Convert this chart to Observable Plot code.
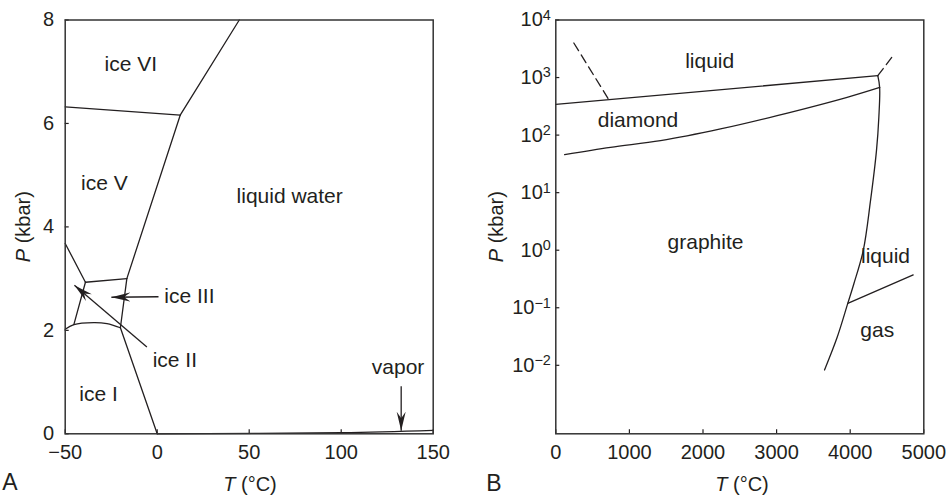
<!DOCTYPE html>
<html><head><meta charset="utf-8">
<script src="https://cdn.jsdelivr.net/npm/d3@7"></script>
<script src="https://cdn.jsdelivr.net/npm/@observablehq/plot@0.6"></script>
<style>
body{margin:0;background:#fff;}
#wrap{position:relative;width:948px;height:498px;}
#wrap svg{position:absolute;top:0;}
</style></head><body><div id="wrap"></div>
<script>
// ---------- Panel A : water ----------
const tempTicksA = [-50, 0, 50, 100, 150];
const presTicksA = [0, 2, 4, 6, 8];
const iceI_liquid   = [[-20, 2.05], [0, 0]];
const liquid_vapor  = [[0, 0], [100, 0.02], [150, 0.065]];
const iceIII_liquid = [[-20, 2.05], [-16.5, 3.0]];
const iceV_liquid   = [[-16.5, 3.0], [12.5, 6.16]];
const iceVI_liquid  = [[12.5, 6.16], [44.6, 8]];
const iceV_iceVI    = [[-50, 6.32], [12.5, 6.16]];
const iceIII_iceV   = [[-39, 2.93], [-16.5, 3.0]];
const iceII_iceV    = [[-50, 3.68], [-39, 2.93]];
const iceII_iceIII  = [[-39, 2.93], [-45.3, 2.11]];
const iceI_iceII    = [[-50, 2.02], [-45.3, 2.11], [-34.5, 2.15], [-27.3, 2.13], [-20, 2.05]];
const labelsA = ["ice VI", "ice V", "liquid water", "ice III", "ice II", "ice I", "vapor"];
const labelTA = [-14.3, -28.7, 72, 17.5, 9.6, -31.9, 130.9];
const labelPA = [7.14, 4.85, 4.59, 2.66, 1.42, 0.77, 1.29];
const arrowT1A = [0.7, -5.6, 132.6];
const arrowP1A = [2.65, 1.68, 0.92];
const arrowT2A = [-24.9, -45, 132.6];
const arrowP2A = [2.64, 2.87, 0.06];

// ---------- Panel B : carbon ----------
const tempTicksB = [0, 1000, 2000, 3000, 4000, 5000];
const presTicksB = [1e-2, 1e-1, 1, 10, 100, 1000, 10000];
const meltLine        = [[0, 342], [4375, 1076]];
const dashedLeft      = [[245, 3980], [720, 413]];
const dashedRight     = [[4375, 1076], [4592, 2495]];
const diamond_graphite = [[120, 45.7], [743, 61.2], [1423, 80], [2238, 128], [3007, 218], [3958, 454], [4402, 675]];
const graphite_fluid  = [[4375, 1076], [4400, 675], [4389, 203], [4357, 53.7], [4276, 7.26], [4177, 0.984], [4049, 0.259], [3967, 0.119], [3823, 0.0307], [3651, 0.0083]];
const liquid_gas      = [[3967, 0.119], [4856, 0.372]];
const labelsB = ["liquid", "diamond", "graphite", "liquid", "gas"];
const labelTB = [2091, 1117, 2034, 4480, 4367];
const labelPB = [1910, 178, 1.37, 0.78, 0.040];

const INK = "#231f20";
const FONT = "'Liberation Sans', Arial, Helvetica, sans-serif";

function rows(list, dashed) {
  const out = [];
  list.forEach((pts, i) => pts.forEach(([T, P]) => out.push({T, P, id: i, dashed})));
  return out;
}
const linesA = rows([iceI_liquid, liquid_vapor, iceIII_liquid, iceV_liquid, iceVI_liquid, iceV_iceVI, iceIII_iceV, iceII_iceV, iceII_iceIII, iceI_iceII]);
const solidB = rows([meltLine, diamond_graphite, graphite_fluid, liquid_gas]);
const dashB = rows([dashedLeft, dashedRight]);
const labA = labelsA.map((t, i) => ({t, T: labelTA[i], P: labelPA[i]}));
const labB = labelsB.map((t, i) => ({t, T: labelTB[i], P: labelPB[i]}));
const arrA = arrowT1A.map((_, i) => ({T1: arrowT1A[i], P1: arrowP1A[i], T2: arrowT2A[i], P2: arrowP2A[i]}));

const W = 474, H = 498, MT = 19.5, MB = 64.7;
const innerH = H - MT - MB;
const plain = d => d < 0 ? "\u2212" + (-d) : String(d);

const plotA = Plot.plot({
  width: W, height: H,
  marginLeft: 64.7, marginRight: 41.3, marginTop: MT, marginBottom: MB,
  style: {fontFamily: FONT, fontSize: "20px", color: INK, background: "white"},
  x: {domain: [-50, 150], label: null},
  y: {domain: [0, 8], label: null},
  marks: [
    Plot.axisX(tempTicksA, {tickSize: 0, tickPadding: 11, label: null, tickFormat: plain}),
    Plot.axisY(presTicksA, {tickSize: 0, tickPadding: 11, label: null, tickFormat: plain}),
    Plot.tickX(tempTicksA, {x: d => d, insetTop: innerH - 4, stroke: INK, strokeWidth: 1.2}),
    Plot.tickY(presTicksA, {y: d => d, insetRight: (W - 64.7 - 41.3) - 4, stroke: INK, strokeWidth: 1.2}),
    Plot.line(linesA, {x: "T", y: "P", z: "id", curve: "catmull-rom", stroke: INK, strokeWidth: 1.3}),
    Plot.link(arrA, {x1: "T1", y1: "P1", x2: "T2", y2: "P2", stroke: INK, strokeWidth: 1.3, markerEnd: "arrow"}),
    Plot.text(labA, {x: "T", y: "P", text: "t", fill: INK, fontSize: 21}),
    Plot.frame({stroke: "#333", strokeWidth: 1.5})
  ]
});

const plotB = Plot.plot({
  width: W, height: H,
  marginLeft: 81.3, marginRight: 24.7, marginTop: MT, marginBottom: MB,
  style: {fontFamily: FONT, fontSize: "20px", color: INK, background: "white"},
  x: {domain: [0, 5000], label: null},
  y: {type: "log", domain: [10 ** -3.19, 1e4], label: null},
  marks: [
    Plot.axisX(tempTicksB, {tickSize: 0, tickPadding: 11, label: null, tickFormat: plain}),
    Plot.axisY(presTicksB, {tickSize: 0, tickPadding: 5, label: null,
      tickFormat: d => { const e = Math.round(Math.log10(d)); return e < 0 ? "\u2212" + (-e) : String(e); }}),
    Plot.tickX(tempTicksB, {x: d => d, insetTop: innerH - 4, stroke: INK, strokeWidth: 1.2}),
    Plot.tickY(presTicksB, {y: d => d, insetRight: (W - 81.3 - 24.7) - 4, stroke: INK, strokeWidth: 1.2}),
    Plot.line(solidB, {x: "T", y: "P", z: "id", curve: "catmull-rom", stroke: INK, strokeWidth: 1.3}),
    Plot.line(dashB, {x: "T", y: "P", z: "id", stroke: INK, strokeWidth: 1.3, strokeDasharray: "9,5"}),
    Plot.text(labB, {x: "T", y: "P", text: "t", fill: INK, fontSize: 21}),
    Plot.frame({stroke: "#333", strokeWidth: 1.5})
  ]
});

// superscript exponents for log ticks
d3.select(plotB).selectAll('g[aria-label="y-axis tick label"] text').each(function() {
  const t = d3.select(this); const e = t.text(); t.text(null);
  t.append("tspan").text("10");
  t.append("tspan").attr("dy", "-0.45em").attr("font-size", "0.72em").text(e);
});

// filled barbed arrowheads
d3.select(plotA).selectAll("marker").each(function() {
  const m = d3.select(this);
  m.selectAll("*").remove();
  m.attr("viewBox", "-19 -5 20 10").attr("markerUnits", "userSpaceOnUse")
   .attr("markerWidth", 20).attr("markerHeight", 10).attr("refX", 0).attr("refY", 0)
   .attr("orient", "auto").attr("stroke", "none").attr("fill", INK);
  m.append("path").attr("d", "M0,0L-19,-4.5L-12.5,0L-19,4.5Z").attr("fill", INK).attr("stroke", "none");
});

function addLabels(svg, pX, xCenter, xBase, letter, letterX, letterY) {
  const s = d3.select(svg);
  const g = s.append("g").attr("font-family", FONT).attr("font-size", 20).attr("fill", INK);
  const p = g.append("text").attr("text-anchor", "middle")
    .attr("transform", `translate(${pX},226.7) rotate(-90)`);
  p.append("tspan").attr("font-style", "italic").text("P");
  p.append("tspan").text(" (kbar)");
  const t = g.append("text").attr("text-anchor", "middle").attr("x", xCenter).attr("y", xBase);
  t.append("tspan").attr("font-style", "italic").text("T");
  t.append("tspan").text(" (\u00b0C)");
  g.append("text").attr("x", letterX).attr("y", letterY).attr("font-size", 23).text(letter);
}
addLabels(plotA, 30, 250, 491, "A", 10, 490);
addLabels(plotB, 29, 268, 491, "B", 20, 491);

const wrap = document.getElementById("wrap");
plotA.style.left = "0px";
plotB.style.left = "474px";
wrap.appendChild(plotA);
wrap.appendChild(plotB);
</script>
</body></html>
